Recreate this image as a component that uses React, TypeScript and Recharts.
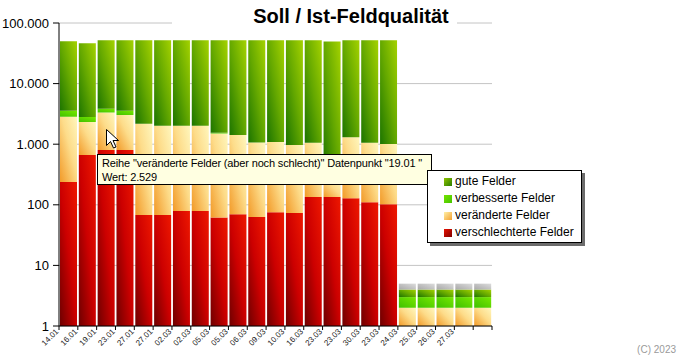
import { BarChart, Bar, XAxis, YAxis, CartesianGrid, Legend } from "recharts";

const labels = [
  "14.01", "16.01", "19.01", "23.01", "27.01", "27.01", "02.03", "02.03",
  "05.03", "05.03", "06.03", "09.03", "10.03", "16.03", "23.03", "23.03",
  "30.03", "23.03", "24.03", "25.03", "26.03", "27.03", "",
];
const schlechter = [238, 664, 800, 800, 68, 68, 79, 79, 62, 70, 63, 75, 73, 135, 135, 128, 110, 102, 0, 0, 0, 0, 0];
const veraendert = [2600, 1660, 2529, 2230, 2110, 1950, 1940, 1940, 1440, 1350, 1000, 1010, 900, 920, 130, 1170, 950, 905, 2, 2, 2, 2, 2];
const verbessert = [727, 480, 500, 540, 0, 0, 0, 0, 46, 0, 0, 0, 0, 0, 0, 0, 0, 0, 1, 1, 1, 1, 1];
const gut = [46500, 43700, 48300, 48500, 49900, 50100, 50100, 50100, 50500, 50700, 51000, 51000, 51100, 51000, 49100, 50800, 51000, 51100, 1, 1, 1, 1, 1];
const ohne = [0, 0, 0, 0, 0, 0, 0, 0, 0, 0, 0, 0, 0, 0, 0, 0, 0, 0, 1, 1, 1, 1, 1];
const yTicks = [1, 10, 100, 1000, 10000, 100000];

const data = labels.map((label, i) => ({
  label,
  schlechter: schlechter[i],
  veraendert: veraendert[i],
  verbessert: verbessert[i],
  gut: gut[i],
  ohne: ohne[i],
}));

const W = 679;
const H = 359;
const LEFT = 59;
const RIGHT = 492;
const TOP = 23;
const BOTTOM = 326;
const BAND = (RIGHT - LEFT) / labels.length;
const FONT = "'Liberation Sans', Arial, sans-serif";

const fmt = (v: number) => String(v).replace(/\B(?=(\d{3})+(?!\d))/g, ".");

function XTick(props: any) {
  const { x, y, payload, index } = props;
  const left = x - BAND / 2;
  return (
    <g>
      <line x1={left} y1={y} x2={left} y2={y + 4} stroke="#000" />
      {index === labels.length - 1 && (
        <line x1={x + BAND / 2} y1={y} x2={x + BAND / 2} y2={y + 4} stroke="#000" />
      )}
      <text
        x={left}
        y={y + 6}
        transform={`rotate(-45 ${left} ${y + 6})`}
        textAnchor="end"
        fontSize={8}
        fontFamily={FONT}
        fill="#222"
      >
        {payload.value}
      </text>
    </g>
  );
}

const legendItems = [
  { name: "gute Felder", bg: "linear-gradient(135deg, #8fc400, #2a7c00)" },
  { name: "verbesserte Felder", bg: "linear-gradient(135deg, #74e400, #46c400)" },
  { name: "veränderte Felder", bg: "linear-gradient(135deg, #fff0a8, #f3a030)" },
  { name: "verschlechterte Felder", bg: "linear-gradient(135deg, #e81000, #800000)" },
];

function LegendBox() {
  return (
    <div
      style={{
        position: "absolute", left: 427, top: 170, width: 153, height: 69,
        border: "1px solid #000", background: "#fff", boxShadow: "3px 3px 0 #6c6c6c",
        fontFamily: FONT, fontSize: 12, color: "#000", paddingTop: 2, boxSizing: "content-box",
      }}
    >
      {legendItems.map((it) => (
        <div key={it.name} style={{ height: 17, lineHeight: "17px", display: "flex", alignItems: "center" }}>
          <span style={{ width: 8, height: 8, marginLeft: 16, marginRight: 3, background: it.bg }} />
          <span>{it.name}</span>
        </div>
      ))}
    </div>
  );
}

export default function App() {
  return (
    <div style={{ position: "absolute", left: 0, top: 0, width: W, height: H, background: "#fff" }}>
      <BarChart
        width={W}
        height={H}
        data={data}
        margin={{ top: TOP, right: W - RIGHT, bottom: 0, left: 0 }}
        barSize={17}
      >
        <defs>
          <linearGradient id="gRed" x1="1" y1="0" x2="0" y2="1">
            <stop offset="0" stopColor="#ee1800" />
            <stop offset="0.5" stopColor="#cc0000" />
            <stop offset="1" stopColor="#6e0000" />
          </linearGradient>
          <linearGradient id="gOrange" x1="1" y1="0" x2="0" y2="1">
            <stop offset="0" stopColor="#fff6bc" />
            <stop offset="0.45" stopColor="#fddc8a" />
            <stop offset="1" stopColor="#f29a28" />
          </linearGradient>
          <linearGradient id="gLime" x1="1" y1="0" x2="0" y2="1">
            <stop offset="0" stopColor="#78e800" />
            <stop offset="1" stopColor="#3fc000" />
          </linearGradient>
          <linearGradient id="gGreen" x1="1" y1="0" x2="0" y2="1">
            <stop offset="0" stopColor="#a4d200" />
            <stop offset="0.5" stopColor="#64a800" />
            <stop offset="1" stopColor="#1c7400" />
          </linearGradient>
          <linearGradient id="gGray" x1="1" y1="0" x2="0" y2="1">
            <stop offset="0" stopColor="#dcdcdc" />
            <stop offset="1" stopColor="#a8a8a8" />
          </linearGradient>
        </defs>
        <CartesianGrid vertical={false} stroke="#c4c4c4" />
        <XAxis
          dataKey="label"
          interval={0}
          height={H - BOTTOM}
          tickLine={false}
          tickSize={0}
          tickMargin={0}
          axisLine={{ stroke: "#000" }}
          tick={<XTick />}
        />
        <YAxis
          scale="log"
          domain={[1, 100000]}
          ticks={yTicks}
          allowDataOverflow
          width={LEFT}
          tickSize={6}
          tickMargin={4}
          axisLine={{ stroke: "#000" }}
          tickLine={{ stroke: "#000" }}
          tick={{ fontSize: 13, fill: "#000", fontFamily: FONT }}
          tickFormatter={fmt}
        />
        <Bar dataKey="schlechter" stackId="s" fill="url(#gRed)" isAnimationActive={false} />
        <Bar dataKey="veraendert" stackId="s" fill="url(#gOrange)" isAnimationActive={false} />
        <Bar dataKey="verbessert" stackId="s" fill="url(#gLime)" isAnimationActive={false} />
        <Bar dataKey="gut" stackId="s" fill="url(#gGreen)" isAnimationActive={false} />
        <Bar dataKey="ohne" stackId="s" fill="url(#gGray)" isAnimationActive={false} />
        <Legend content={() => null} />
      </BarChart>

      <svg
        width={W}
        height={H}
        style={{ position: "absolute", left: 0, top: 0, pointerEvents: "none" }}
      >
        <rect x={172} y={0} width={285} height={27} fill="#fff" />
        <text x={351} y={23} textAnchor="middle" fontSize={20} fontWeight="bold" fontFamily={FONT} fill="#000">
          Soll / Ist-Feldqualität
        </text>
        <text x={676} y={353} textAnchor="end" fontSize={10} fontFamily={FONT} fill="#9a9a9a">
          (C) 2023
        </text>
      </svg>

      <div
        style={{
          position: "absolute", left: 97, top: 154, width: 335, height: 31,
          border: "1px solid #000", background: "#ffffe1", fontFamily: FONT,
          fontSize: 11, letterSpacing: "-0.15px", lineHeight: "14px", color: "#000",
          padding: "1px 0 0 4px", boxSizing: "border-box", whiteSpace: "nowrap",
        }}
      >
        <div>Reihe "veränderte Felder (aber noch schlecht)" Datenpunkt "19.01 "</div>
        <div>Wert: 2.529</div>
      </div>

      <LegendBox />

      <svg
        width={14}
        height={22}
        style={{ position: "absolute", left: 106, top: 129, pointerEvents: "none" }}
      >
        <path
          d="M0.5 0.5 L0.5 16.5 L4.5 12.5 L7.5 19 L10 18 L7 11.5 L12.5 11.5 Z"
          fill="#fff"
          stroke="#000"
          strokeWidth={1}
        />
      </svg>
    </div>
  );
}
